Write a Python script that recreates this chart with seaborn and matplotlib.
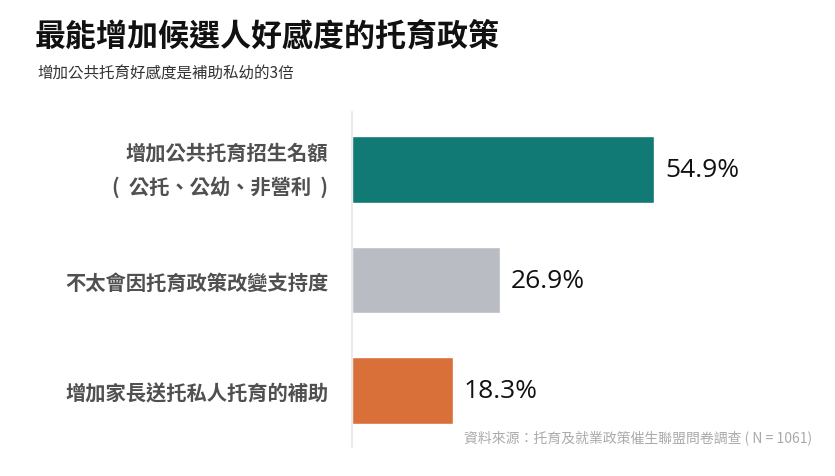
import pandas as pd
import seaborn as sns
import matplotlib.pyplot as plt

labels = ['增加公共托育招生名額\n(  公托、公幼、非營利  )', '不太會因托育政策改變支持度', '增加家長送托私人托育的補助']
values = [54.9, 26.9, 18.3]
colors = ['#127a75', '#b9bcc3', '#d9703a']

title = '最能增加候選人好感度的托育政策'
subtitle = '增加公共托育好感度是補助私幼的3倍'
source = '資料來源：托育及就業政策催生聯盟問卷調查 ( N = 1061)'

df = pd.DataFrame({'label': labels, 'value': values})

sns.set_theme(style='white')
plt.rcParams['font.family'] = ['Noto Sans CJK TC', 'DejaVu Sans']

fig = plt.figure(figsize=(8.35, 4.77), dpi=100)
ax = fig.add_axes([0.4216, 0.0608, 0.5599, 0.7023])

sns.barplot(data=df, x='value', y='label', hue='label', palette=colors,
            legend=False, width=0.6, saturation=1, ax=ax)

ax.set_xlim(0, 85)
ax.set_ylim(2.51, -0.52)
ax.set_xlabel('')
ax.set_ylabel('')
ax.set_xticks([])
for s in ['top', 'right', 'bottom']:
    ax.spines[s].set_visible(False)
ax.spines['left'].set_color('#e6e6e6')
ax.spines['left'].set_linewidth(1.2)

ax.tick_params(axis='y', length=0, pad=17)
for t in ax.get_yticklabels():
    t.set_fontsize(14.6)
    t.set_color('#505050')
    t.set_fontweight('bold')
    t.set_linespacing(1.75)
ax.get_yticklabels()[0].set_verticalalignment('center')

for i, v in enumerate(values):
    ax.text(v + 2.0, i, '%.1f%%' % v, va='center', ha='left', fontsize=19,
            color='#111111', family=['Open Sans', 'DejaVu Sans'])

fig.text(0.042, 0.905, title, fontsize=22.3, fontweight='bold', color='#111111')
fig.text(0.045, 0.835, subtitle, fontsize=11.2, color='#333333')
fig.text(0.973, 0.072, source, fontsize=10, color='#aaaaaa', ha='right')

plt.savefig('out.png', dpi=100)
